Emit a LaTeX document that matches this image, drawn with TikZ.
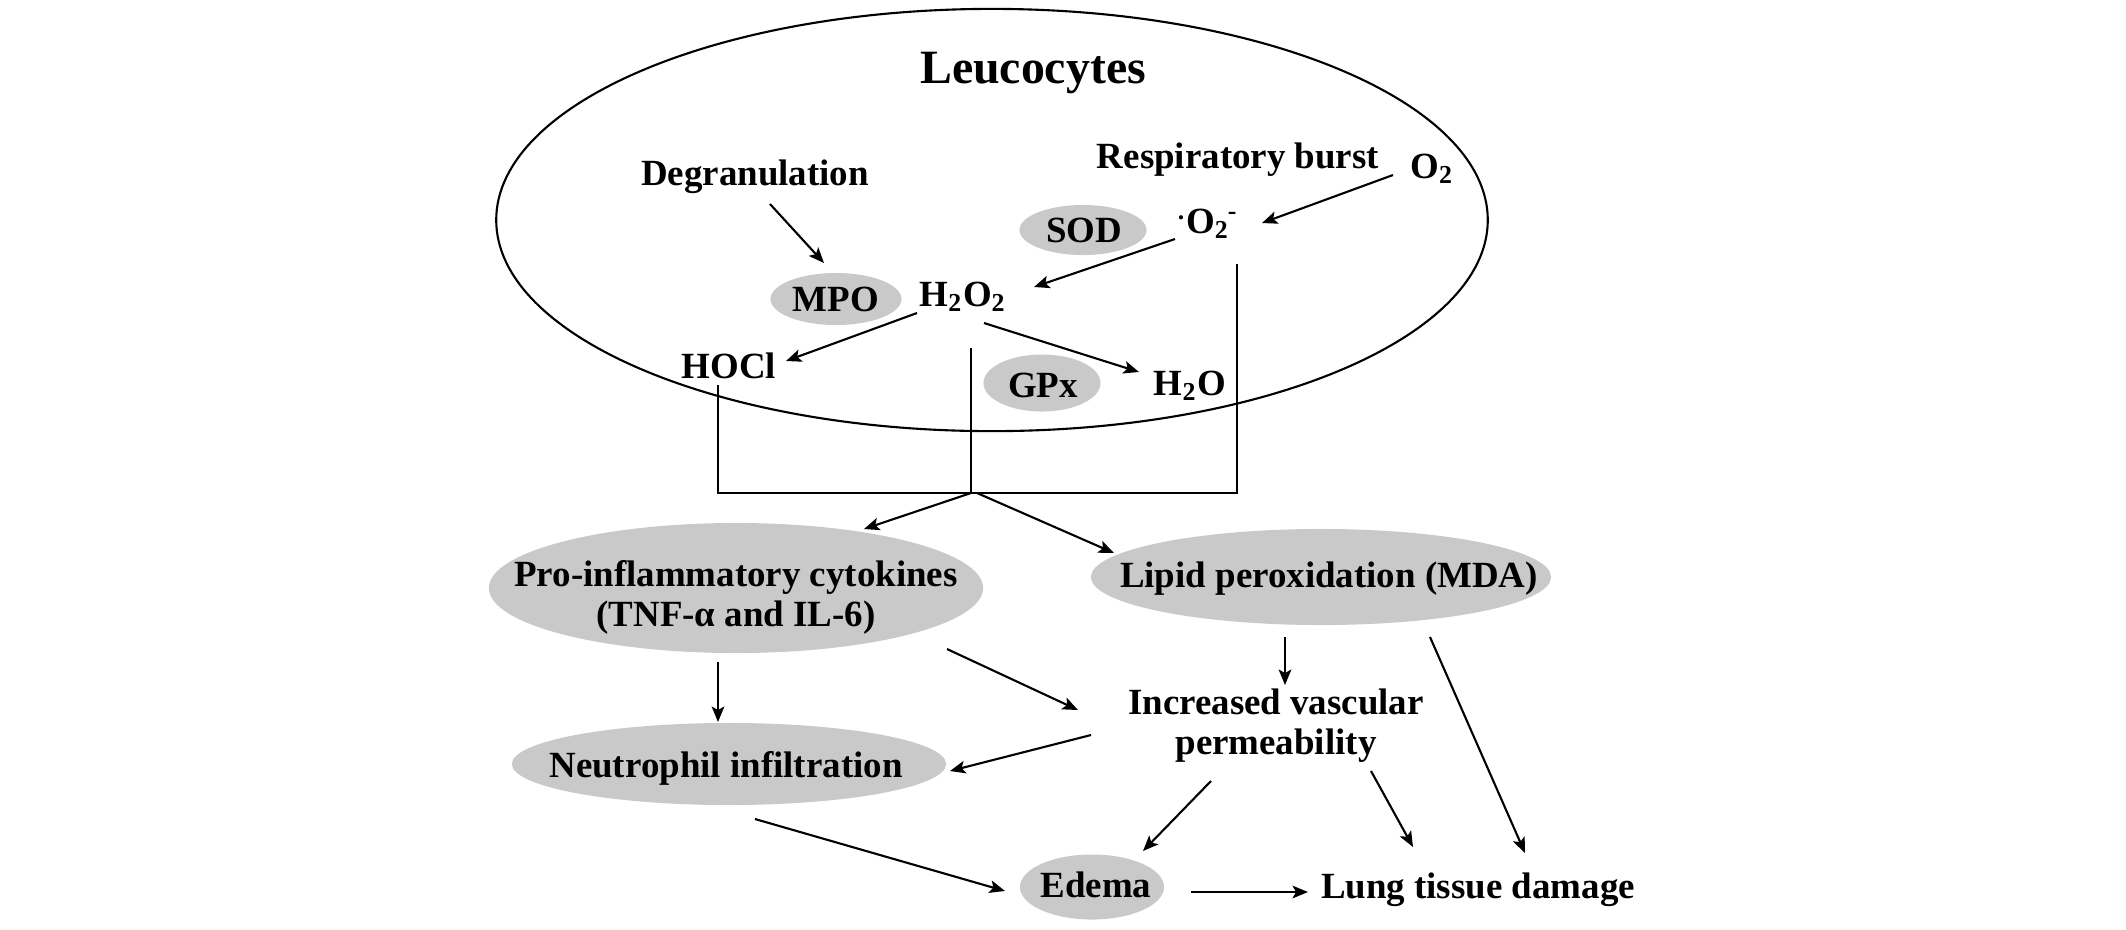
\documentclass[tikz,border=0pt]{standalone}
\usepackage{fontspec}
\setmainfont{Liberation Serif}
\usetikzlibrary{shapes.geometric,arrows.meta,calc}
\definecolor{ellgray}{RGB}{201,201,201}
\begin{document}
\begin{tikzpicture}[x=0.01cm,y=-0.01cm,
  txt/.style={font=\fontsize{10.5}{11.4}\selectfont\bfseries, inner sep=0pt, anchor=base},
  gell/.style={ellipse, fill=ellgray, draw=none, inner sep=0pt},
  arr/.style={-{Stealth[length=4.4pt,width=3.6pt,inset=1pt]}, line width=0.6pt},
  ln/.style={line width=0.6pt}]
\path[use as bounding box] (0,0) rectangle (2126,929);

% cell
\node[ellipse, draw, line width=0.6pt, minimum width=9.91cm, minimum height=4.22cm, inner sep=0pt] (cell) at (992,220) {};
\node[txt, font=\fontsize{13.6}{15}\selectfont\bfseries] (leu) at (1033,83) {Leucocytes};
\node[txt] (deg) at (755,185) {Degranulation};
\node[txt] (resp) at (1238,168) {Respiratory burst};
\node[txt] (o2) at (1432,178) {O\textsubscript{2}};
\node[gell, minimum width=1.27cm, minimum height=0.50cm] (sod) at (1083,230) {};
\node[txt] (sodt) at (1084,242) {SOD};
\node[txt] (sup) at (1208,233) {\textsuperscript{.}O\textsubscript{2}\kern-0.5pt\textsuperscript{-}};
\node[gell, minimum width=1.31cm, minimum height=0.52cm] (mpo) at (836,299) {};
\node[txt] (mpot) at (836,311) {MPO};
\node[txt] (h2o2) at (963,306) {H\textsubscript{2}O\textsubscript{2}};
\node[txt] (hocl) at (729,378) {HOCl};
\node[gell, minimum width=1.17cm, minimum height=0.57cm] (gpx) at (1042,383) {};
\node[txt] (gpxt) at (1043,397) {GPx};
\node[txt] (h2o) at (1190,395) {H\textsubscript{2}O};

\draw[arr] ($(deg.base)+(15,19)$) -- ($(mpo.center)+(-12,-36)$);
\draw[arr] ($(o2.base)+(-39,-3)$) -- ($(sup.base)+(54,-10)$);
\draw[arr] ($(sup.base)+(-33,6)$) -- ($(h2o2.base)+(71,-19)$);
\draw[arr] ($(h2o2.base)+(-46,7)$) -- ($(hocl.base)+(57,-17)$);
\draw[arr] ($(h2o2.base)+(21,17)$) -- ($(h2o.base)+(-51,-23)$);

% collecting lines
\coordinate (j) at (971,493);
\draw[ln] ($(hocl.base)+(-11,7)$) -- ++(0,108) -| ($(sup.base)+(29,31)$);
\draw[ln] ($(h2o2.base)+(8,42)$) -- (j);

% lower part
\node[gell, minimum width=4.94cm, minimum height=1.30cm] (pro) at (736,588) {};
\node[txt, anchor=center, align=center] (prot) at (736,597) {Pro-inflammatory cytokines\\(TNF-α and IL-6)};
\node[gell, minimum width=4.60cm, minimum height=0.96cm] (lip) at (1321,577) {};
\node[txt] (lipt) at (1329,587) {Lipid peroxidation (MDA)};
\node[txt, anchor=center, align=center] (ivp) at (1276,726) {Increased vascular\\permeability};
\node[gell, minimum width=4.34cm, minimum height=0.82cm] (neu) at (729,764) {};
\node[txt] (neut) at (726,777) {Neutrophil infiltration};
\node[gell, minimum width=1.44cm, minimum height=0.65cm] (ede) at (1092,887) {};
\node[txt] (edet) at (1096,897) {Edema};
\node[txt] (ltd) at (1478,898) {Lung tissue damage};

\draw[arr] (j) -- ($(pro.center)+(128,-59)$);
\draw[arr] ($(j)+(6,0)$) -- ($(lip.center)+(-207,-24)$);
\draw[arr] ($(pro.center)+(-18,74)$) -- ($(neu.center)+(-11,-42)$);
\draw[arr] ($(pro.center)+(211,61)$) -- ($(ivp.center)+(-198,-16)$);
\draw[arr] ($(lip.center)+(-36,60)$) -- ($(ivp.center)+(9,-41)$);
\draw[arr] ($(lip.center)+(109,60)$) -- ($(ltd.base)+(47,-45)$);
\draw[arr] ($(ivp.center)+(-185,9)$) -- ($(neu.center)+(221,7)$);
\draw[arr] ($(ivp.center)+(-65,55)$) -- ($(ede.center)+(51,-36)$);
\draw[arr] ($(ivp.center)+(95,45)$) -- ($(ltd.base)+(-65,-51)$);
\draw[arr] ($(neu.center)+(26,55)$) -- ($(ede.center)+(-87,4)$);
\draw[arr] ($(ede.center)+(99,5)$) -- ($(ltd.base)+(-170,-6)$);
\end{tikzpicture}
\end{document}
